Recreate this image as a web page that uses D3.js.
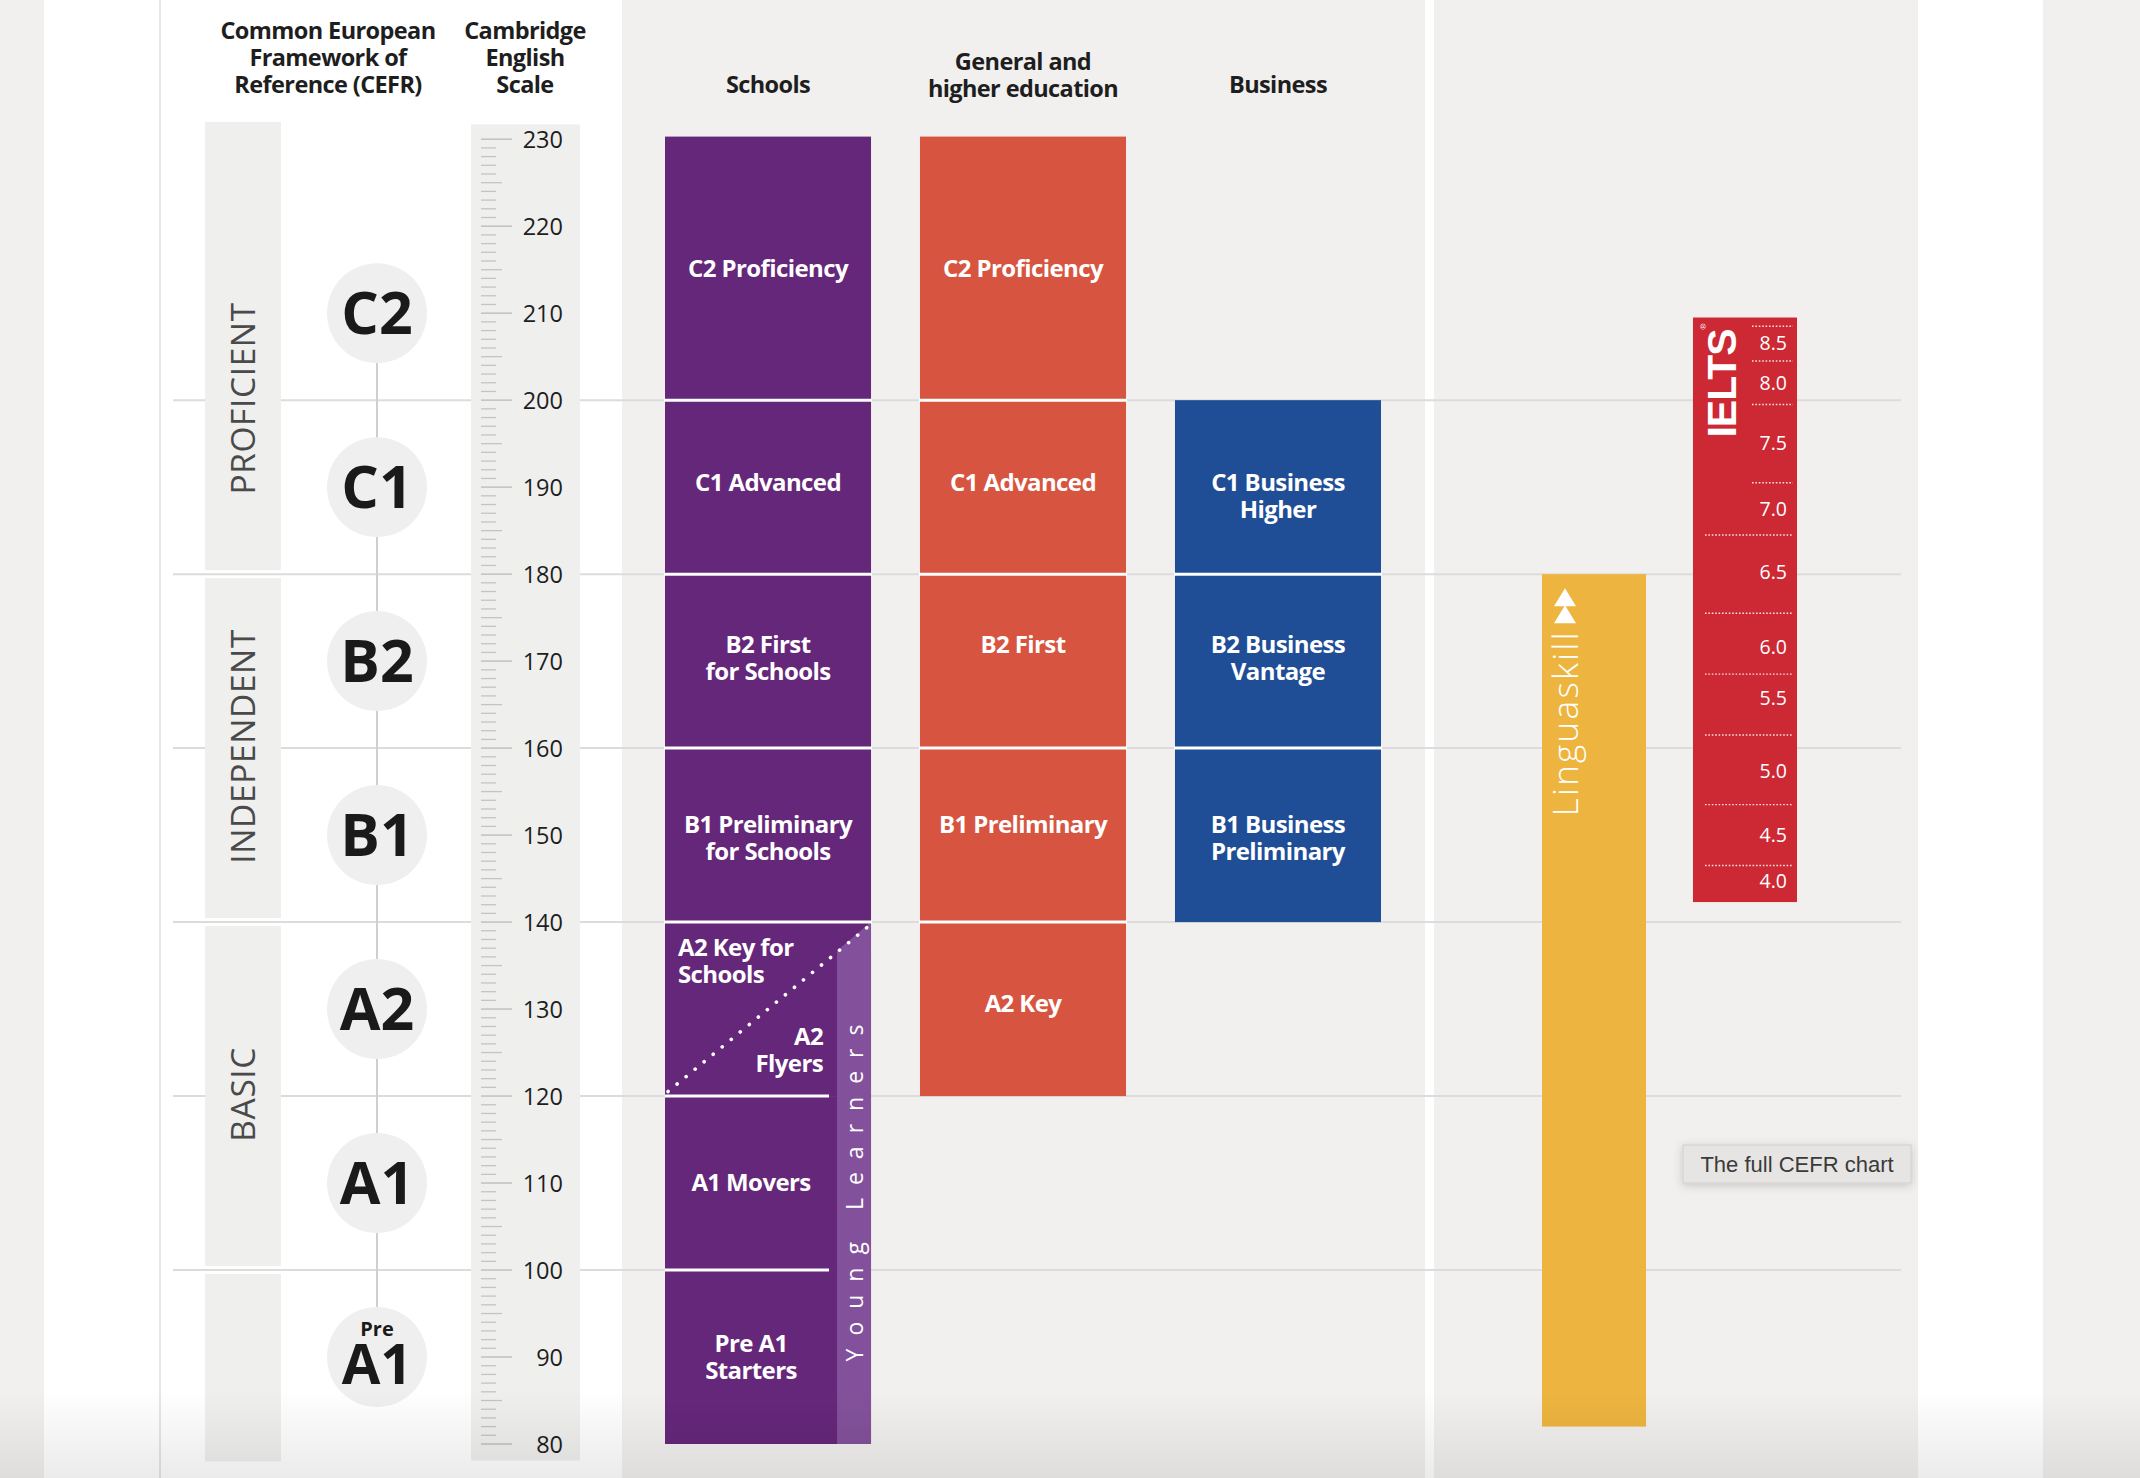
<!DOCTYPE html>
<html><head><meta charset="utf-8">
<script src="https://cdn.jsdelivr.net/npm/d3@7"></script>
<style>
html,body{margin:0;padding:0;background:#f1f0ef;overflow:hidden}
svg{display:block}
</style></head><body>
<svg id="chart" width="2140" height="1478"></svg>
<script>
// ---------------- DATA ----------------
const scaleDomain = [80, 230];
const scaleTickLabels = [230, 220, 210, 200, 190, 180, 170, 160, 150, 140, 130, 120, 110, 100, 90, 80];
const gridValues = [200, 180, 160, 140, 120, 100];

const cefrLevels = ["C2", "C1", "B2", "B1", "A2", "A1", "A1"];
const cefrPrefix = ["", "", "", "", "", "", "Pre"];
const cefrCentres = [210, 190, 170, 150, 130, 110, 90];

const bandNames = ["PROFICIENT", "INDEPENDENT", "BASIC", ""];
const bandTop = [232, 180, 140, 100];
const bandBottom = [180, 140, 100, 78];
const bandLabelAt = [200.2, 160.2, 120.2, null];

const headerCefr = ["Common European", "Framework of", "Reference (CEFR)"];
const headerScale = ["Cambridge", "English", "Scale"];
const columns = ["Schools", "General and higher education", "Business"];
const columnTitleLines = [["Schools"], ["General and", "higher education"], ["Business"]];

const schoolsExams = [["C2 Proficiency"], ["C1 Advanced"], ["B2 First", "for Schools"], ["B1 Preliminary", "for Schools"], ["A1 Movers"], ["Pre A1", "Starters"]];
const schoolsFrom = [200, 180, 160, 140, 100, 80];
const schoolsTo = [230.3, 200, 180, 160, 120, 100];
const schoolsLabelAt = [215.2, 190.6, 170.4, 149.7, 110.1, 90.0];

const a2SplitLabels = [["A2 Key for", "Schools"], ["A2", "Flyers"]];
const a2SplitRange = [120, 140];
const a2SplitLabelAt = [135.5, 125.3];

const youngLearnersLabel = "Young Learners";
const youngLearnersRange = [80, 140];
const youngLearnersLabelAt = 109.6;

const generalExams = [["C2 Proficiency"], ["C1 Advanced"], ["B2 First"], ["B1 Preliminary"], ["A2 Key"]];
const generalFrom = [200, 180, 160, 140, 120];
const generalTo = [230.3, 200, 180, 160, 140];
const generalLabelAt = [215.2, 190.6, 171.9, 151.2, 130.7];

const businessExams = [["C1 Business", "Higher"], ["B2 Business", "Vantage"], ["B1 Business", "Preliminary"]];
const businessFrom = [180, 160, 140];
const businessTo = [200, 180, 160];
const businessLabelAt = [189.0, 170.4, 149.7];

const sideTests = ["Linguaskill", "IELTS"];
const linguaskillRange = [82, 180];
const ieltsRange = [142.3, 209.5];
const ieltsBands = ["8.5", "8.0", "7.5", "7.0", "6.5", "6.0", "5.5", "5.0", "4.5", "4.0"];
const ieltsLabelAt = [206.6, 202.0, 195.1, 187.5, 180.3, 171.6, 165.8, 157.4, 150.0, 144.7];
const ieltsBoundaries = [208.5, 204.5, 199.5, 190.5, 184.5, 175.5, 168.5, 161.5, 153.5, 146.5];

const buttonLabel = "The full CEFR chart";

// ---------------- LAYOUT / STYLE ----------------
const W = 2140, H = 1478;
const FONT = "'Open Sans', 'Noto Sans', sans-serif";
const C = {
  bg: "#f1f0ef", white: "#ffffff", band: "#efefee", grid: "#dcdcdc",
  purple: "#65277a", ylPurple: "#83519b", orange: "#d75540", blue: "#1f4e96",
  yellow: "#edb53f", red: "#cc2935", text: "#1e1e1e", label: "#4a4a4a", tick: "#c4c4c4"
};

const svg = d3.select("#chart");
const y = d3.scaleLinear().domain(scaleDomain).range([1444, 139.2]);
const xCol = d3.scaleBand().domain(columns).range([665, 1381]).paddingInner(0.192);
const xSide = d3.scaleBand().domain(sideTests).range([1542, 1797]).paddingInner(0.311);
const bw = xCol.bandwidth();

// Background panels
svg.append("rect").attr("width", W).attr("height", H).attr("fill", C.bg);
svg.append("rect").attr("x", 44).attr("y", 0).attr("width", 578).attr("height", H).attr("fill", C.white);
svg.append("line").attr("x1", 160).attr("x2", 160).attr("y1", 0).attr("y2", H).attr("stroke", "#e6e6e6").attr("stroke-width", 2);
svg.append("rect").attr("x", 1425).attr("y", 0).attr("width", 9).attr("height", H).attr("fill", C.white);
svg.append("rect").attr("x", 1918).attr("y", 0).attr("width", 125).attr("height", H).attr("fill", C.white);

// Grid lines
svg.append("g").selectAll("line").data(gridValues).join("line")
  .attr("x1", 173).attr("x2", 1901)
  .attr("y1", d => y(d)).attr("y2", d => y(d))
  .attr("stroke", C.grid).attr("stroke-width", 2);

// CEFR bands
const bands = svg.append("g");
bandNames.forEach((n, i) => {
  const t = y(bandTop[i]) + (i === 0 ? 0 : 4);
  const b = y(bandBottom[i]) - (i === 3 ? 0 : 4);
  bands.append("rect").attr("x", 205).attr("width", 76).attr("y", t).attr("height", b - t).attr("fill", C.band);
  if (n) {
    bands.append("text").text(n)
      .attr("transform", `translate(${243 + 12},${y(bandLabelAt[i])}) rotate(-90)`)
      .attr("text-anchor", "middle").attr("font-family", FONT).attr("font-size", 33.5)
      .attr("font-weight", 400).attr("letter-spacing", 0.6).attr("fill", C.label);
  }
});

// Scale band
svg.append("rect").attr("x", 471).attr("width", 109).attr("y", y(231.7)).attr("height", y(78.1) - y(231.7)).attr("fill", C.band);

// Connector + circles
svg.append("line").attr("x1", 377).attr("x2", 377).attr("y1", y(cefrCentres[0])).attr("y2", y(cefrCentres[cefrCentres.length - 1]))
  .attr("stroke", "#cfcfcf").attr("stroke-width", 2);
const circ = svg.append("g").selectAll("g").data(cefrLevels.map((l, i) => ({l, p: cefrPrefix[i], v: cefrCentres[i]}))).join("g")
  .attr("transform", d => `translate(377,${y(d.v)})`);
circ.append("circle").attr("r", 50).attr("fill", "#efefef");
circ.append("text").text(d => d.l).attr("text-anchor", "middle")
  .attr("y", d => d.p ? 27 : 21).attr("font-family", FONT).attr("font-weight", 700)
  .attr("font-size", d => d.p ? 56 : 59).attr("fill", "#1a1a1a");
circ.filter(d => d.p).append("text").text(d => d.p).attr("text-anchor", "middle")
  .attr("y", -21).attr("font-family", FONT).attr("font-weight", 700).attr("font-size", 20).attr("fill", "#1a1a1a");

// Ticks on scale
const tickVals = d3.range(scaleDomain[0], scaleDomain[1] + 1);
svg.append("g").selectAll("line").data(tickVals).join("line")
  .attr("x1", 481).attr("x2", d => d % 10 === 0 ? 512 : (d % 5 === 0 ? 502 : 496))
  .attr("y1", d => y(d)).attr("y2", d => y(d))
  .attr("stroke", C.tick).attr("stroke-width", d => d % 10 === 0 ? 1.6 : 1.3);
svg.append("g").selectAll("text").data(scaleTickLabels).join("text")
  .text(d => d).attr("x", 563).attr("y", d => y(d) + 8.5).attr("text-anchor", "end")
  .attr("font-family", FONT).attr("font-size", 23.5).attr("fill", C.text);

// Headers
function multiline(g, lines, x, yBase, lh, anchor, attrs) {
  const t = g.append("text").attr("text-anchor", anchor);
  Object.entries(attrs).forEach(([k, v]) => t.attr(k, v));
  lines.forEach((ln, i) => t.append("tspan").attr("x", x).attr("y", yBase + i * lh).text(ln));
  return t;
}
const headAttrs = {"font-family": FONT, "font-size": 23.5, "font-weight": 700, "fill": C.text, "letter-spacing": -0.6};
multiline(svg, headerCefr, 328, 39, 27, "middle", headAttrs);
multiline(svg, headerScale, 525, 39, 27, "middle", headAttrs);
columns.forEach((c, i) => {
  const lines = columnTitleLines[i];
  const base = lines.length === 1 ? 93 : 70;
  multiline(svg, lines, xCol(c) + bw / 2, base, 27, "middle", headAttrs);
});

// Bar label helper (block centred at value)
const labAttrs = {"font-family": FONT, "font-size": 24, "font-weight": 700, "fill": "#ffffff", "letter-spacing": -0.6};
function blockLabel(g, lines, x, v, anchor) {
  const lh = 27;
  const top = y(v) - (lines.length - 1) * lh / 2 + 8.6;
  multiline(g, lines, x, top, lh, anchor, labAttrs);
}

function drawColumn(col, exams, from, to, colour) {
  const g = svg.append("g");
  const x0 = xCol(col);
  exams.forEach((e, i) => {
    g.append("rect").attr("x", x0).attr("width", bw).attr("y", y(to[i])).attr("height", y(from[i]) - y(to[i])).attr("fill", colour);
  });
  return g;
}

// Schools column
const sg = drawColumn("Schools", schoolsExams, schoolsFrom, schoolsTo, C.purple);
const sx0 = xCol("Schools"), sx1 = sx0 + bw, ylx = sx1 - 34;
sg.append("rect").attr("x", sx0).attr("width", bw).attr("y", y(a2SplitRange[1])).attr("height", y(a2SplitRange[0]) - y(a2SplitRange[1])).attr("fill", C.purple);
const diagY = x => y(a2SplitRange[0]) + (x - sx0) / bw * (y(a2SplitRange[1]) - y(a2SplitRange[0]));
sg.append("polygon")
  .attr("points", [[ylx, diagY(ylx)], [sx1, y(youngLearnersRange[1])], [sx1, y(youngLearnersRange[0])], [ylx, y(youngLearnersRange[0])]].map(p => p.join(",")).join(" "))
  .attr("fill", C.ylPurple);
[200, 180, 160, 140].forEach(v => sg.append("line").attr("x1", sx0 - 1).attr("x2", sx1 + 1).attr("y1", y(v)).attr("y2", y(v)).attr("stroke", "#fff").attr("stroke-width", 3));
[120, 100].forEach(v => sg.append("line").attr("x1", sx0).attr("x2", ylx - 8).attr("y1", y(v)).attr("y2", y(v)).attr("stroke", "#fff").attr("stroke-width", 3));
sg.append("line").attr("x1", sx0 + 3).attr("y1", diagY(sx0 + 3) - 2).attr("x2", sx1 - 2).attr("y2", diagY(sx1 - 2) + 2)
  .attr("stroke", "#fff").attr("stroke-width", 3.6).attr("stroke-linecap", "round").attr("stroke-dasharray", "0.1 11.6");
schoolsExams.forEach((e, i) => {
  const narrow = schoolsFrom[i] < youngLearnersRange[1];
  const cx = narrow ? (sx0 + ylx) / 2 : sx0 + bw / 2;
  blockLabel(sg, e, cx, schoolsLabelAt[i], "middle");
});
blockLabel(sg, a2SplitLabels[0], sx0 + 13, a2SplitLabelAt[0], "start");
blockLabel(sg, a2SplitLabels[1], ylx - 14, a2SplitLabelAt[1], "end");
sg.append("text").text(youngLearnersLabel)
  .attr("transform", `translate(${ylx + 17 + 8.5},${y(youngLearnersLabelAt)}) rotate(-90)`)
  .attr("text-anchor", "middle").attr("font-family", FONT).attr("font-size", 23).attr("font-weight", 400)
  .attr("letter-spacing", 13).attr("fill", "#fff");

// General column
const gg = drawColumn("General and higher education", generalExams, generalFrom, generalTo, C.orange);
const gx0 = xCol("General and higher education");
[200, 180, 160, 140].forEach(v => gg.append("line").attr("x1", gx0 - 1).attr("x2", gx0 + bw + 1).attr("y1", y(v)).attr("y2", y(v)).attr("stroke", "#fff").attr("stroke-width", 3));
generalExams.forEach((e, i) => blockLabel(gg, e, gx0 + bw / 2, generalLabelAt[i], "middle"));

// Business column
const bg = drawColumn("Business", businessExams, businessFrom, businessTo, C.blue);
const bx0 = xCol("Business");
[180, 160].forEach(v => bg.append("line").attr("x1", bx0 - 1).attr("x2", bx0 + bw + 1).attr("y1", y(v)).attr("y2", y(v)).attr("stroke", "#fff").attr("stroke-width", 3));
businessExams.forEach((e, i) => blockLabel(bg, e, bx0 + bw / 2, businessLabelAt[i], "middle"));

// Linguaskill
const lx0 = xSide("Linguaskill"), sbw = xSide.bandwidth();
const lg = svg.append("g");
lg.append("rect").attr("x", lx0).attr("width", sbw).attr("y", y(linguaskillRange[1])).attr("height", y(linguaskillRange[0]) - y(linguaskillRange[1])).attr("fill", C.yellow);
const ltop = y(linguaskillRange[1]);
const tcx = lx0 + 23;
lg.append("path").attr("d", `M${tcx},${ltop + 14} L${tcx + 11},${ltop + 32} L${tcx - 11},${ltop + 32} Z M${tcx},${ltop + 31} L${tcx + 11},${ltop + 49} L${tcx - 11},${ltop + 49} Z`).attr("fill", "#fff");
lg.append("text").text("Linguaskill")
  .attr("transform", `translate(${lx0 + 36},${ltop + 56}) rotate(-90)`)
  .attr("text-anchor", "end").attr("font-family", FONT).attr("font-size", 35).attr("font-weight", 300)
  .attr("letter-spacing", 2.3).attr("fill", "#fff");

// IELTS
const ix0 = xSide("IELTS");
const ig = svg.append("g");
ig.append("rect").attr("x", ix0).attr("width", sbw).attr("y", y(ieltsRange[1])).attr("height", y(ieltsRange[0]) - y(ieltsRange[1])).attr("fill", C.red);
const itop = y(ieltsRange[1]);
ig.append("text").text("IELTS")
  .attr("transform", `translate(${ix0 + 43},${itop + 120}) rotate(-90)`)
  .attr("font-family", "'Liberation Sans', Arial, sans-serif").attr("font-weight", 700).attr("font-size", 41)
  .attr("letter-spacing", -1).attr("fill", "#fff");
ig.append("text").text("®")
  .attr("transform", `translate(${ix0 + 13},${itop + 12}) rotate(-90)`)
  .attr("font-family", "'Liberation Sans', Arial, sans-serif").attr("font-size", 8).attr("fill", "#fff");
ig.selectAll("line.b").data(ieltsBoundaries).join("line")
  .attr("x1", d => d > 190 ? ix0 + 59 : ix0 + 12).attr("x2", ix0 + sbw - 4)
  .attr("y1", d => y(d)).attr("y2", d => y(d))
  .attr("stroke", "#fff").attr("stroke-opacity", 0.85).attr("stroke-width", 1.4).attr("stroke-dasharray", "1.6 1.8");
ig.selectAll("text.v").data(ieltsBands).join("text")
  .text(d => d).attr("x", ix0 + 94).attr("y", (d, i) => y(ieltsLabelAt[i]) + 7)
  .attr("text-anchor", "end").attr("font-family", FONT).attr("font-size", 19.5).attr("fill", "#fff");

// Button
const defs = svg.append("defs");
const f = defs.append("filter").attr("id", "sh").attr("x", "-20%").attr("y", "-50%").attr("width", "140%").attr("height", "200%");
f.append("feDropShadow").attr("dx", 0).attr("dy", 2).attr("stdDeviation", 5).attr("flood-color", "#000").attr("flood-opacity", 0.18);
svg.append("rect").attr("x", 1683).attr("y", 1145).attr("width", 228).attr("height", 38)
  .attr("fill", "#e7e5e4").attr("stroke", "#d0cecd").attr("stroke-width", 1).attr("filter", "url(#sh)");
svg.append("text").text(buttonLabel).attr("x", 1797).attr("y", 1172).attr("text-anchor", "middle")
  .attr("font-family", "'Liberation Sans', Arial, sans-serif").attr("font-size", 22).attr("fill", "#3a3a3a");

// bottom shade
const lgd = defs.append("linearGradient").attr("id", "fade").attr("x1", 0).attr("x2", 0).attr("y1", 0).attr("y2", 1);
lgd.append("stop").attr("offset", "0%").attr("stop-color", "#000").attr("stop-opacity", 0);
lgd.append("stop").attr("offset", "100%").attr("stop-color", "#000").attr("stop-opacity", 0.08);
svg.append("rect").attr("x", 0).attr("y", 1390).attr("width", W).attr("height", H - 1390).attr("fill", "url(#fade)");
</script>
</body></html>
